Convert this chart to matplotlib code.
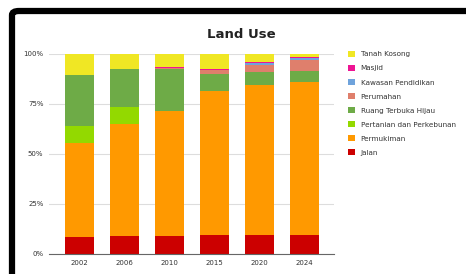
import numpy as np
import matplotlib.pyplot as plt
from matplotlib.patches import FancyBboxPatch
from matplotlib.ticker import PercentFormatter

years = ["2002", "2006", "2010", "2015", "2020", "2024"]

# shares in percent, bottom to top
jalan = [8.5, 8.8, 8.8, 9.7, 9.7, 9.7]
permukiman = [46.8, 56.0, 62.5, 71.7, 74.8, 76.1]
pertanian = [8.5, 8.5, 0.0, 0.0, 0.0, 0.0]
rth = [25.8, 19.2, 21.3, 8.5, 6.3, 5.5]
perumahan = [0.0, 0.0, 0.3, 2.2, 3.7, 5.5]
pendidikan = [0.0, 0.0, 0.0, 0.0, 1.0, 1.0]
masjid = [0.0, 0.0, 0.5, 0.3, 0.7, 0.7]
tanah_kosong = [10.4, 7.5, 6.6, 7.6, 3.8, 1.5]

series = [
    ("Jalan", jalan, "#cc0000"),
    ("Permukiman", permukiman, "#ff9900"),
    ("Pertanian dan Perkebunan", pertanian, "#93d900"),
    ("Ruang Terbuka Hijau", rth, "#6eab47"),
    ("Perumahan", perumahan, "#df7f6c"),
    ("Kawasan Pendidikan", pendidikan, "#6fa3dc"),
    ("Masjid", masjid, "#ee1493"),
    ("Tanah Kosong", tanah_kosong, "#f0e724"),
]

fig = plt.figure(figsize=(4.66, 2.74), dpi=100)

# black rounded frame of the screenshot
frame = FancyBboxPatch((12 / 466, -0.2), 1.2, (274 - 11) / 274 + 0.2,
                       boxstyle="round,pad=0,rounding_size=0.015",
                       transform=fig.transFigure, fill=False,
                       edgecolor="black", linewidth=4.5, zorder=0)
fig.patches.append(frame)

ax = fig.add_axes([49 / 466, 20 / 274, 285 / 466, 200 / 274])

x = np.arange(len(years))
totals = np.sum([s[1] for s in series], axis=0)
bottom = np.zeros(len(years))
handles = []
for name, vals, color in series:
    v = np.array(vals) / totals
    b = ax.bar(x, v, 0.645, bottom=bottom, color=color, label=name, zorder=2)
    handles.append(b)
    bottom += v

ax.set_xlim(-0.68, 5.66)
ax.set_ylim(0, 1)
ax.set_yticks([0, 0.25, 0.5, 0.75, 1.0])
ax.yaxis.set_major_formatter(PercentFormatter(1.0, decimals=0))
ax.set_xticks(x)
ax.set_xticklabels(years)
ax.tick_params(axis="both", length=0, labelsize=5, colors="#333333", pad=4)
ax.grid(axis="y", color="#dddddd", linewidth=0.8, zorder=0)
for side in ["top", "right", "left"]:
    ax.spines[side].set_visible(False)
ax.spines["bottom"].set_color("#666666")
ax.spines["bottom"].set_linewidth(0.8)

fig.text(241 / 466, 1 - 35 / 274, "Land Use", ha="center", va="center",
         fontsize=9.5, fontweight="bold", color="#222222")

leg = ax.legend(handles[::-1], [s[0] for s in series][::-1],
                loc="upper left", bbox_to_anchor=(1.04, 1.03), frameon=False,
                fontsize=5.2, handlelength=0.9, handleheight=0.9,
                handletextpad=0.8, labelspacing=1.05, borderaxespad=0)
for t in leg.get_texts():
    t.set_color("#333333")

fig.savefig("out.png", dpi=100)
